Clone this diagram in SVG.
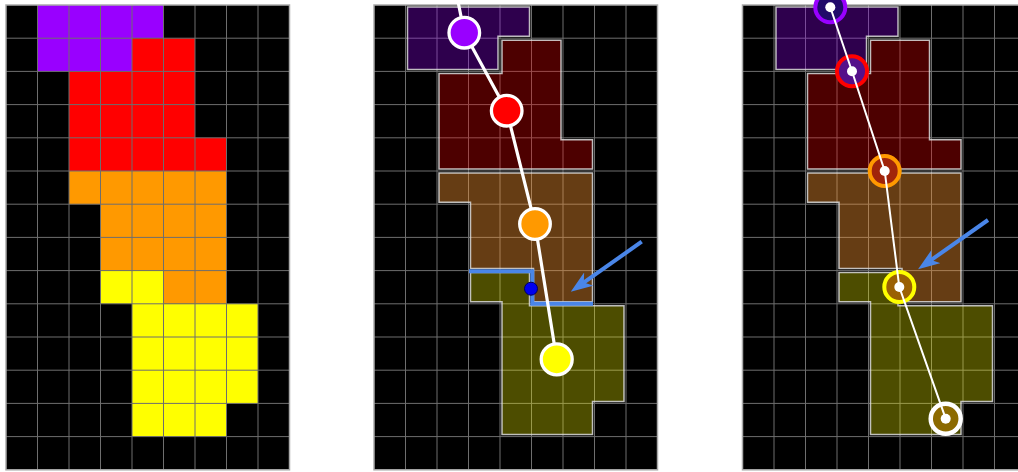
<svg xmlns="http://www.w3.org/2000/svg" xmlns:xlink="http://www.w3.org/1999/xlink" width="1018" height="472" viewBox="0 0 1018 472">
<style>
.bg{fill:#000}
.grid{stroke:#6e6e6e;stroke-width:1;fill:none}
.border{stroke:#aaaaaa;stroke-width:1.5;fill:none}
.reg{stroke:#dddddd;stroke-opacity:0.85;stroke-width:1.5}
.arrow{stroke:#4a86e8;stroke-width:4;fill:none}
</style>
<defs>
<marker id="ah" markerUnits="userSpaceOnUse" viewBox="0 0 22 16" markerWidth="22" markerHeight="16" refX="8" refY="8" orient="auto">
<path d="M0,0 L22,8 L0,16 L6,8 Z" fill="#4a86e8"/>
</marker>
<g id="gridlines">
<path class="grid" d="M31.5,5V469.8M63,5V469.8M94.5,5V469.8M126,5V469.8M157.5,5V469.8M189,5V469.8M220.5,5V469.8M252,5V469.8M0,38.2H283.5M0,71.4H283.5M0,104.6H283.5M0,137.8H283.5M0,171H283.5M0,204.2H283.5M0,237.4H283.5M0,270.6H283.5M0,303.8H283.5M0,337H283.5M0,370.2H283.5M0,403.4H283.5M0,436.6H283.5"/>
<rect class="border" x="0" y="5" width="283.5" height="464.8"/>
</g>
<g id="regions">
<polygon class="reg" fill="#9900ff" fill-opacity="0.3" points="33.5,7 155.5,7 155.5,36.2 124,36.2 124,69.4 33.5,69.4"/>
<polygon class="reg" fill="#ff0000" fill-opacity="0.3" points="128,40.2 187,40.2 187,139.8 218.5,139.8 218.5,169 65,169 65,73.4 128,73.4"/>
<polygon class="reg" fill="#ff9933" fill-opacity="0.4" points="65,173 218.5,173 218.5,301.8 159.5,301.8 159.5,268.6 96.5,268.6 96.5,202.2 65,202.2"/>
<polygon class="reg" fill="#ffff00" fill-opacity="0.3" points="96.5,272.6 155.5,272.6 155.5,305.8 250,305.8 250,401.4 218.5,401.4 218.5,434.6 128,434.6 128,301.8 96.5,301.8"/>
</g>
</defs>
<rect width="1018" height="472" fill="#ffffff"/>

<g id="panel1" transform="translate(6,0)">
<rect class="bg" x="0" y="5" width="283.5" height="464.8"/>
<polygon fill="#9900ff" points="31.5,5 157.5,5 157.5,38.2 126,38.2 126,71.4 31.5,71.4"/>
<polygon fill="#ff0000" points="126,38.2 189,38.2 189,137.8 220.5,137.8 220.5,171 63,171 63,71.4 126,71.4"/>
<polygon fill="#ff9900" points="63,171 220.5,171 220.5,303.8 157.5,303.8 157.5,270.6 94.5,270.6 94.5,204.2 63,204.2"/>
<polygon fill="#ffff00" points="94.5,270.6 157.5,270.6 157.5,303.8 252,303.8 252,403.4 220.5,403.4 220.5,436.6 126,436.6 126,303.8 94.5,303.8"/>
<use xlink:href="#gridlines"/>
</g>

<g id="panel2">
<g transform="translate(374,0)">
<rect class="bg" x="0" y="5" width="283.5" height="464.8"/>
<use xlink:href="#gridlines"/>
<use xlink:href="#regions"/>
</g>
<g id="connectors2">
<polyline points="469,271.3 532.3,271.3 532.3,303.7 593,303.7" fill="none" stroke="#4a86e8" stroke-width="4"/>
<line class="arrow" x1="641.7" y1="241.7" x2="582.2" y2="283.6" marker-end="url(#ah)"/>
<polyline points="457.3,-2 464.3,32.7 506.7,110.7 535,224 556.7,359.3" fill="none" stroke="#ffffff" stroke-width="3.2"/>
</g>
<circle id="dot2" cx="531" cy="288.7" r="6.5" fill="#0000ee" stroke="#00005a" stroke-width="1"/>
<g id="nodes2" stroke="#ffffff" stroke-width="3.3">
<circle id="p2-purple" cx="464.3" cy="32.7" r="15.3" fill="#9900ff"/>
<circle id="p2-red" cx="506.7" cy="110.7" r="15.3" fill="#ff0000"/>
<circle id="p2-orange" cx="535" cy="224" r="15.3" fill="#ff9900"/>
<circle id="p2-yellow" cx="556.7" cy="359.3" r="15.5" fill="#ffff00"/>
</g>
</g>

<g id="panel3">
<g transform="translate(742.5,0)">
<rect class="bg" x="0" y="5" width="283.5" height="464.8"/>
<use xlink:href="#gridlines"/>
<use xlink:href="#regions"/>
</g>
<g id="rings3" stroke-width="4">
<circle id="p3-purple" cx="830.3" cy="7.3" r="15" fill="#200a6a" stroke="#9900ff"/>
<circle id="p3-red" cx="852" cy="71.3" r="15" fill="#55108a" stroke="#ff0000"/>
<circle id="p3-orange" cx="884.7" cy="171" r="15" fill="#a0240a" stroke="#ff9900"/>
<circle id="p3-yellow" cx="899.3" cy="287" r="15" fill="#9a6004" stroke="#ffff00"/>
<circle id="p3-white" cx="945.7" cy="418.7" r="15" fill="#8c6a00" stroke="#ffffff" stroke-width="4.5"/>
</g>
<g id="connectors3">
<polyline points="830.3,7.3 852,71.3 884.7,171 899.3,287 945.7,418.7" fill="none" stroke="#ffffff" stroke-width="2"/>
<line class="arrow" x1="988" y1="220" x2="929.5" y2="261.2" marker-end="url(#ah)"/>
</g>
<g id="dots3" fill="#ffffff">
<circle cx="830.3" cy="7.3" r="5"/>
<circle cx="852" cy="71.3" r="5"/>
<circle cx="884.7" cy="171" r="5"/>
<circle cx="899.3" cy="287" r="5"/>
<circle cx="945.7" cy="418.7" r="5"/>
</g>
</g>
</svg>
